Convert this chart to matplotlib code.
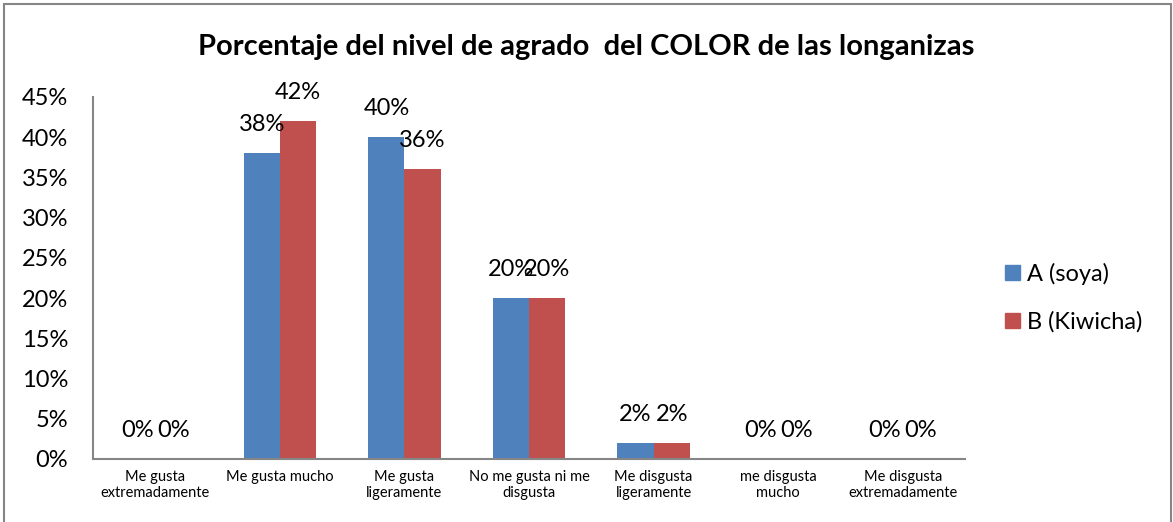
import numpy as np
import matplotlib.pyplot as plt
from matplotlib.patches import Rectangle, Patch

plt.rcParams['font.family'] = ['Lato', 'DejaVu Sans']

# Niveles de agrado y porcentajes por muestra
categorias = ['Me gusta\nextremadamente', 'Me gusta mucho', 'Me gusta\nligeramente',
              'No me gusta ni me\ndisgusta', 'Me disgusta\nligeramente', 'me disgusta\nmucho',
              'Me disgusta\nextremadamente']
soya = [0.00, 0.38, 0.40, 0.20, 0.02, 0.00, 0.00]
kiwicha = [0.00, 0.42, 0.36, 0.20, 0.02, 0.00, 0.00]
series = ['A (soya)', 'B (Kiwicha)']
colores = ['#4F81BD', '#C0504D']

fig = plt.figure(figsize=(11.73, 5.22), dpi=100)
ax = fig.add_axes([0.0793, 0.1207, 0.7434, 0.6935])

x = np.arange(len(categorias))
w = 0.29
for i, (vals, col) in enumerate(zip([soya, kiwicha], colores)):
    pos = x + (i - 0.5) * w
    ax.bar(pos, vals, width=w, color=col, edgecolor='none')
    for p, v in zip(pos, vals):
        ax.annotate(f'{v:.0%}', (p, v), xytext=(0, 13), textcoords='offset points',
                    ha='center', va='bottom', fontsize=17)

ax.set_xlim(-0.5, len(categorias) - 0.5)
ax.set_ylim(0, 0.45)
ax.set_yticks(np.arange(0, 0.46, 0.05))
ax.set_yticklabels([f'{t:.0%}' for t in np.arange(0, 0.46, 0.05)], fontsize=17)
ax.set_xticks(x)
ax.set_xticklabels(categorias, fontsize=10.5)
ax.tick_params(length=0, pad=8)
ax.tick_params(axis='y', pad=18)
for s in ['top', 'right']:
    ax.spines[s].set_visible(False)
for s in ['left', 'bottom']:
    ax.spines[s].set_color('#868686')
    ax.spines[s].set_linewidth(1.5)

fig.suptitle('Porcentaje del nivel de agrado  del COLOR de las longanizas',
             x=0.5, y=0.91, va='center', fontsize=21, fontweight='bold')

handles = [Patch(color=c) for c in colores]
fig.legend(handles, series, loc='center left', bbox_to_anchor=(0.839, 0.43),
           frameon=False, fontsize=17, handlelength=0.6, handleheight=0.6,
           handletextpad=0.3, labelspacing=1.1)

# marco exterior
fig.patches.append(Rectangle((4 / 1173, -0.05), 1167 / 1173, 1.05 - 4 / 522,
                             transform=fig.transFigure, fill=False,
                             edgecolor='#868686', linewidth=1.5))

fig.savefig('out.png', dpi=100)
